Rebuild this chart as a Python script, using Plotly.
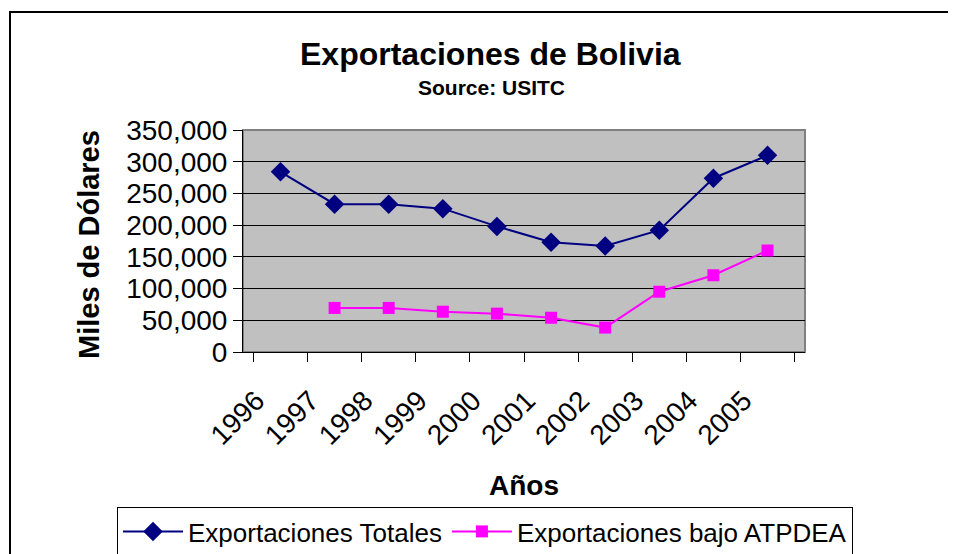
import plotly.graph_objects as go

# Data (miles de dólares)
years = ["1996", "1997", "1998", "1999", "2000", "2001", "2002", "2003", "2004", "2005"]
totales = [284000, 233000, 233000, 226000, 198000, 173000, 167000, 192000, 274000, 310000]
atpdea_years = ["1997", "1998", "1999", "2000", "2001", "2002", "2003", "2004", "2005"]
atpdea = [69500, 69500, 63500, 60500, 54000, 38500, 95000, 121000, 160000]

FONT = "Arial, Liberation Sans, sans-serif"

# page has an 8px body margin, so figure pixels = screen pixels - 8
OFF = 8
W, H = 956 - OFF, 554 - OFF
L, R, T, B = 243 - OFF, 805 - OFF, 130 - OFF, 352 - OFF


def px_x(x):
    # x given in screen pixels of the reference
    return (x - OFF - L) / (R - L)


def px_y(y):
    return (B - (y - OFF)) / (B - T)


fig = go.Figure()

fig.add_trace(go.Scatter(
    x=years, y=totales,
    mode="lines+markers",
    name="Exportaciones Totales",
    line=dict(color="#000080", width=2),
    marker=dict(symbol="diamond", size=15, color="#000080"),
))

fig.add_trace(go.Scatter(
    x=atpdea_years, y=atpdea,
    mode="lines+markers",
    name="Exportaciones bajo ATPDEA",
    line=dict(color="#FF00FF", width=2),
    marker=dict(symbol="square", size=12, color="#FF00FF"),
))

# gray frame of the plot area (top/right), axes draw left/bottom in black
fig.add_shape(type="rect", xref="paper", yref="paper", x0=0, x1=1, y0=0, y1=1,
              line=dict(color="#808080", width=2), layer="below")

# outer chart border (cropped at right and bottom like the reference)
fig.add_shape(type="rect", xref="paper", yref="paper",
              x0=px_x(10), x1=px_x(990), y0=px_y(600), y1=px_y(12),
              line=dict(color="black", width=2))

# titles
fig.add_annotation(text="<b>Exportaciones de Bolivia</b>", xref="paper", yref="paper",
                   x=px_x(490), y=px_y(54), showarrow=False,
                   xanchor="center", yanchor="middle",
                   font=dict(family=FONT, size=32, color="black"))
fig.add_annotation(text="<b>Source: USITC</b>", xref="paper", yref="paper",
                   x=px_x(491), y=px_y(88), showarrow=False,
                   xanchor="center", yanchor="middle",
                   font=dict(family=FONT, size=21, color="black"))
fig.add_annotation(text="<b>Miles de Dólares</b>", xref="paper", yref="paper",
                   x=px_x(89), y=px_y(245), showarrow=False, textangle=-90,
                   xanchor="center", yanchor="middle",
                   font=dict(family=FONT, size=29, color="black"))
fig.add_annotation(text="<b>Años</b>", xref="paper", yref="paper",
                   x=px_x(524), y=px_y(485), showarrow=False,
                   xanchor="center", yanchor="middle",
                   font=dict(family=FONT, size=28, color="black"))

fig.update_xaxes(
    type="category",
    categoryorder="array", categoryarray=years,
    tickson="boundaries",
    ticks="outside", ticklen=9, tickcolor="black",
    showline=True, linecolor="black", linewidth=1,
    showgrid=False,
    tickangle=-45,
    ticklabelstandoff=20,
    ticklabelshift=-24,
    automargin=False,
    tickfont=dict(family=FONT, size=28, color="black"),
)

fig.update_yaxes(
    range=[0, 350000],
    dtick=50000,
    tickformat=",",
    ticks="outside", ticklen=9, tickcolor="black",
    showline=True, linecolor="black", linewidth=1,
    showgrid=True, gridcolor="black", gridwidth=1,
    zeroline=False,
    automargin=False,
    tickfont=dict(family=FONT, size=28, color="black"),
)

fig.update_layout(
    width=W, height=H,
    margin=dict(l=L, r=W - R, t=T, b=H - B, autoexpand=False),
    paper_bgcolor="white",
    plot_bgcolor="#C0C0C0",
    showlegend=True,
    legend=dict(
        orientation="h",
        x=px_x(117), y=px_y(507),
        xanchor="left", yanchor="top",
        bordercolor="black", borderwidth=1,
        bgcolor="white",
        font=dict(family=FONT, size=26, color="black"),
        itemwidth=60,
        tracegroupgap=0,
    ),
)

fig.write_html("out.html")
